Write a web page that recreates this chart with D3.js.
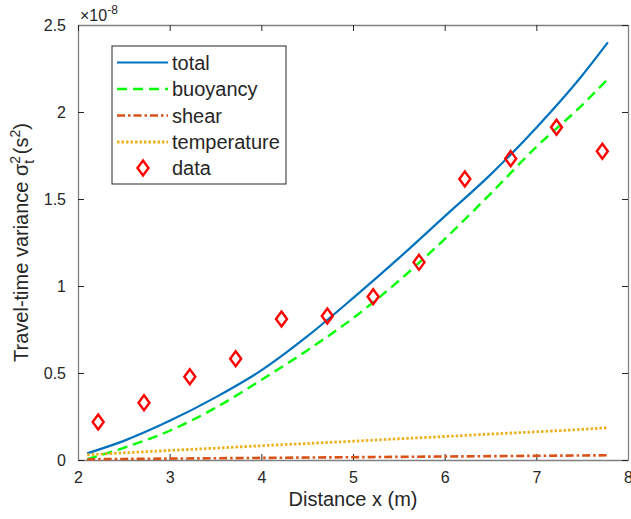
<!DOCTYPE html>
<html>
<head>
<meta charset="utf-8">
<script src="https://cdn.jsdelivr.net/npm/d3@7"></script>
<style>
  body { margin: 0; background: #fff; }
  svg { font-family: "Liberation Sans", Arial, Helvetica, sans-serif; }
  .tick text { fill: #262626; font-size: 16px; }
</style>
</head>
<body>
<svg id="chart" width="631" height="519"></svg>
<script>
// measured data (x in m, variance in units of 1e-8 s^2)
var dataX = [2.22, 2.72, 3.22, 3.72, 4.22, 4.72, 5.22, 5.72, 6.22, 6.72, 7.22, 7.72];
var dataY = [0.218, 0.329, 0.478, 0.582, 0.810, 0.828, 0.938, 1.136, 1.615, 1.732, 1.912, 1.774];

// model curves
var modelX      = [2.1, 2.5, 3, 3.5, 4, 4.5, 5, 5.5, 6, 6.5, 7, 7.5, 7.78];
var total       = [0.038, 0.11, 0.225, 0.36, 0.515, 0.71, 0.93, 1.16, 1.40, 1.64, 1.91, 2.21, 2.40];
var buoyancy    = [0.005, 0.07, 0.168, 0.30, 0.46, 0.63, 0.815, 1.03, 1.27, 1.53, 1.80, 2.04, 2.19];
var shear       = [0.004, 0.006, 0.008, 0.010, 0.012, 0.014, 0.016, 0.018, 0.020, 0.022, 0.024, 0.026, 0.027];
var temperature = [0.030, 0.041, 0.055, 0.068, 0.082, 0.095, 0.108, 0.122, 0.135, 0.149, 0.162, 0.176, 0.186];

var xTicks = [2, 3, 4, 5, 6, 7, 8];
var yTicks = [0, 0.5, 1, 1.5, 2, 2.5];

var pLeft = 78, pRight = 628, pTop = 25, pBottom = 460;
var svg = d3.select("#chart");

var x = d3.scaleLinear().domain([2, 8]).range([pLeft, pRight]);
var y = d3.scaleLinear().domain([0, 2.5]).range([pBottom, pTop]);

var tickFmt = function (d) { return d3.format("")(d); };

// axes (inward ticks on all four sides, matlab box style)
var xAxis = d3.axisBottom(x).tickValues(xTicks).tickSizeInner(-6).tickSizeOuter(0).tickPadding(12).tickFormat(tickFmt);
var yAxis = d3.axisLeft(y).tickValues(yTicks).tickSizeInner(-6).tickSizeOuter(0).tickPadding(12).tickFormat(tickFmt);

var gx = svg.append("g").attr("transform", "translate(0," + pBottom + ")").call(xAxis);
var gy = svg.append("g").attr("transform", "translate(" + pLeft + ",0)").call(yAxis);
var gxt = svg.append("g").attr("transform", "translate(0," + pTop + ")")
  .call(d3.axisTop(x).tickValues(xTicks).tickSizeInner(-6).tickSizeOuter(0).tickFormat(""));
var gyr = svg.append("g").attr("transform", "translate(" + pRight + ",0)")
  .call(d3.axisRight(y).tickValues(yTicks).tickSizeInner(-6).tickSizeOuter(0).tickFormat(""));

[gx, gy, gxt, gyr].forEach(function (g) {
  g.select(".domain").attr("stroke", "#808080").attr("stroke-width", 1.3);
  g.selectAll(".tick line").attr("stroke", "#262626").attr("stroke-width", 1);
});
gx.selectAll(".tick text").attr("dy", "0.71em");

// exponent label
var expo = svg.append("text").attr("x", 80).attr("y", 21).attr("fill", "#262626").style("font-size", "16px");
expo.append("tspan").text("\u00d710");
expo.append("tspan").attr("dy", -7).style("font-size", "12px").text("-8");

// curves
var series = [
  { name: "total", vals: total, color: "#0072BD", dash: null, w: 2.2 },
  { name: "buoyancy", vals: buoyancy, color: "#00FF00", dash: "10,6", w: 2.4 },
  { name: "shear", vals: shear, color: "#D95319", dash: "8,3,2.5,3", w: 2.6 },
  { name: "temperature", vals: temperature, color: "#EDB120", dash: "2.5,2", w: 2.8 }
];

var line = d3.line()
  .x(function (d) { return x(d[0]); })
  .y(function (d) { return y(d[1]); })
  .curve(d3.curveMonotoneX);

var plot = svg.append("g");
series.forEach(function (s) {
  plot.append("path")
    .datum(modelX.map(function (v, i) { return [v, s.vals[i]]; }))
    .attr("d", line)
    .attr("fill", "none")
    .attr("stroke", s.color)
    .attr("stroke-width", s.w)
    .attr("stroke-dasharray", s.dash);
});

function diamond(cx, cy) {
  var w = 5.5, h = 7.5;
  return "M" + cx + "," + (cy - h) + "L" + (cx + w) + "," + cy + "L" + cx + "," + (cy + h) + "L" + (cx - w) + "," + cy + "Z";
}

plot.selectAll("path.pt")
  .data(dataX.map(function (v, i) { return [v, dataY[i]]; }))
  .enter().append("path")
  .attr("class", "pt")
  .attr("d", function (d) { return diamond(x(d[0]), y(d[1])); })
  .attr("fill", "none")
  .attr("stroke", "#FF0000")
  .attr("stroke-width", 2.4);

// axis labels
svg.append("text")
  .attr("x", (pLeft + pRight) / 2).attr("y", 506)
  .attr("text-anchor", "middle").attr("fill", "#262626")
  .style("font-size", "20px")
  .text("Distance x (m)");

var yl = svg.append("text")
  .attr("transform", "translate(28," + ((pTop + pBottom) / 2) + ") rotate(-90)")
  .attr("text-anchor", "middle").attr("fill", "#262626")
  .style("font-size", "20px");
yl.append("tspan").text("Travel-time variance \u03c3");
yl.append("tspan").attr("dy", -8).style("font-size", "14px").text("2");
yl.append("tspan").attr("dx", -7.8).attr("dy", 14).style("font-size", "14px").text("t");
yl.append("tspan").attr("dy", -6).text(" (s");
yl.append("tspan").attr("dy", -8).style("font-size", "14px").text("2");
yl.append("tspan").attr("dy", 8).text(")");

// legend
var lg = svg.append("g");
lg.append("rect")
  .attr("x", 112).attr("y", 46).attr("width", 174).attr("height", 138)
  .attr("fill", "#fff").attr("stroke", "#262626").attr("stroke-width", 1);

var rowY = [62.5, 89, 115.5, 142, 168];
series.forEach(function (s, i) {
  lg.append("line")
    .attr("x1", 117).attr("x2", 168).attr("y1", rowY[i]).attr("y2", rowY[i])
    .attr("stroke", s.color).attr("stroke-width", s.w)
    .attr("stroke-dasharray", s.dash);
  lg.append("text")
    .attr("x", 172).attr("y", rowY[i]).attr("dy", "0.35em")
    .attr("fill", "#262626").style("font-size", "20px")
    .text(s.name);
});
lg.append("path")
  .attr("d", diamond(143, rowY[4]))
  .attr("fill", "none").attr("stroke", "#FF0000").attr("stroke-width", 2.4);
lg.append("text")
  .attr("x", 172).attr("y", rowY[4]).attr("dy", "0.35em")
  .attr("fill", "#262626").style("font-size", "20px")
  .text("data");
</script>
</body>
</html>
